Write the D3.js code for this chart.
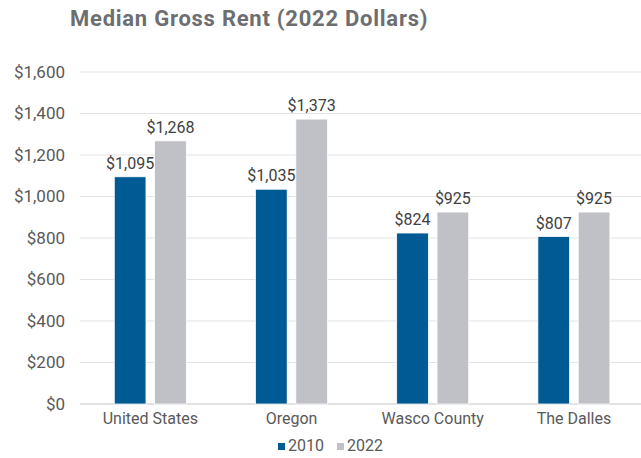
<!DOCTYPE html>
<html lang="en">
<head>
    <meta charset="utf-8">
    <script src="https://cdn.jsdelivr.net/npm/d3@7"></script>
    <style>
        body { margin: 0; background: #fff; }
        text { font-family: Roboto, "Open Sans", sans-serif; }
    </style>
</head>
<body>
    <script>
        let w = 641;
        let h = 458;

        // data
        let categories = ["United States", "Oregon", "Wasco County", "The Dalles"];
        let years = ["2010", "2022"];
        let rent2010 = [1095, 1035, 824, 807];
        let rent2022 = [1268, 1373, 925, 925];
        let yTicks = [0, 200, 400, 600, 800, 1000, 1200, 1400, 1600];
        let colors = ["#005b94", "#bfc1c7"];

        let svg = d3.select("body").append("svg")
            .attr("width", w)
            .attr("height", h);

        // title
        svg.append("text")
            .attr("x", 70)
            .attr("y", 26)
            .attr("font-size", 22)
            .attr("font-weight", "bold")
            .attr("letter-spacing", 0.75)
            .attr("fill", "#6d6e71")
            .text("Median Gross Rent (2022 Dollars)");

        let x0 = d3.scaleBand()
            .domain(categories)
            .range([79.7, 644.5])
            .paddingInner(0.49)
            .paddingOuter(0.245);

        let x1 = d3.scaleBand()
            .domain(years)
            .range([0, x0.bandwidth()])
            .paddingInner(0.215);

        let y = d3.scaleLinear()
            .domain([0, 1600])
            .range([404, 72]);

        // gridlines
        svg.append("g")
            .selectAll("line")
            .data(yTicks)
            .join("line")
            .attr("x1", 80)
            .attr("x2", w)
            .attr("y1", d => y(d))
            .attr("y2", d => y(d))
            .attr("stroke", d => d === 0 ? "#d9d9d9" : "#e3e3e3")
            .attr("stroke-width", d => d === 0 ? 1.5 : 1);

        // y axis labels
        let fmt = d3.format("$,");
        svg.append("g")
            .selectAll("text")
            .data(yTicks)
            .join("text")
            .attr("x", 65)
            .attr("y", d => y(d))
            .attr("dy", "0.35em")
            .attr("text-anchor", "end")
            .attr("font-size", 17)
            .attr("fill", "#595959")
            .text(d => fmt(d));

        let rows = categories.map(function(c, i) {
            return { cat: c, values: [rent2010[i], rent2022[i]] };
        });

        let groups = svg.append("g")
            .selectAll("g")
            .data(rows)
            .join("g")
            .attr("transform", d => "translate(" + x0(d.cat) + ",0)");

        groups.selectAll("rect")
            .data(d => d.values.map((v, j) => ({ year: years[j], v: v, j: j })))
            .join("rect")
            .attr("x", d => x1(d.year))
            .attr("y", d => y(d.v))
            .attr("width", x1.bandwidth())
            .attr("height", d => y(0) - y(d.v))
            .attr("fill", d => colors[d.j])
            .attr("stroke", "#fff")
            .attr("stroke-width", 0.75);

        groups.selectAll("text")
            .data(d => d.values.map((v, j) => ({ year: years[j], v: v })))
            .join("text")
            .attr("x", d => x1(d.year) + x1.bandwidth() / 2)
            .attr("y", d => y(d.v) - 8)
            .attr("text-anchor", "middle")
            .attr("font-size", 16)
            .attr("fill", "#404040")
            .text(d => fmt(d.v));

        // category labels
        svg.append("g")
            .selectAll("text")
            .data(categories)
            .join("text")
            .attr("x", d => x0(d) + x0.bandwidth() / 2)
            .attr("y", 424)
            .attr("text-anchor", "middle")
            .attr("font-size", 16)
            .attr("fill", "#595959")
            .text(d => d);

        // legend
        let legendX = [278, 337];
        let legend = svg.append("g")
            .selectAll("g")
            .data(years)
            .join("g")
            .attr("transform", (d, i) => "translate(" + legendX[i] + ",443)");

        legend.append("rect")
            .attr("width", 7)
            .attr("height", 7)
            .attr("fill", (d, i) => colors[i]);

        legend.append("text")
            .attr("x", 10)
            .attr("y", 7.5)
            .attr("font-size", 16)
            .attr("fill", "#595959")
            .text(d => d);
    </script>
</body>
</html>
